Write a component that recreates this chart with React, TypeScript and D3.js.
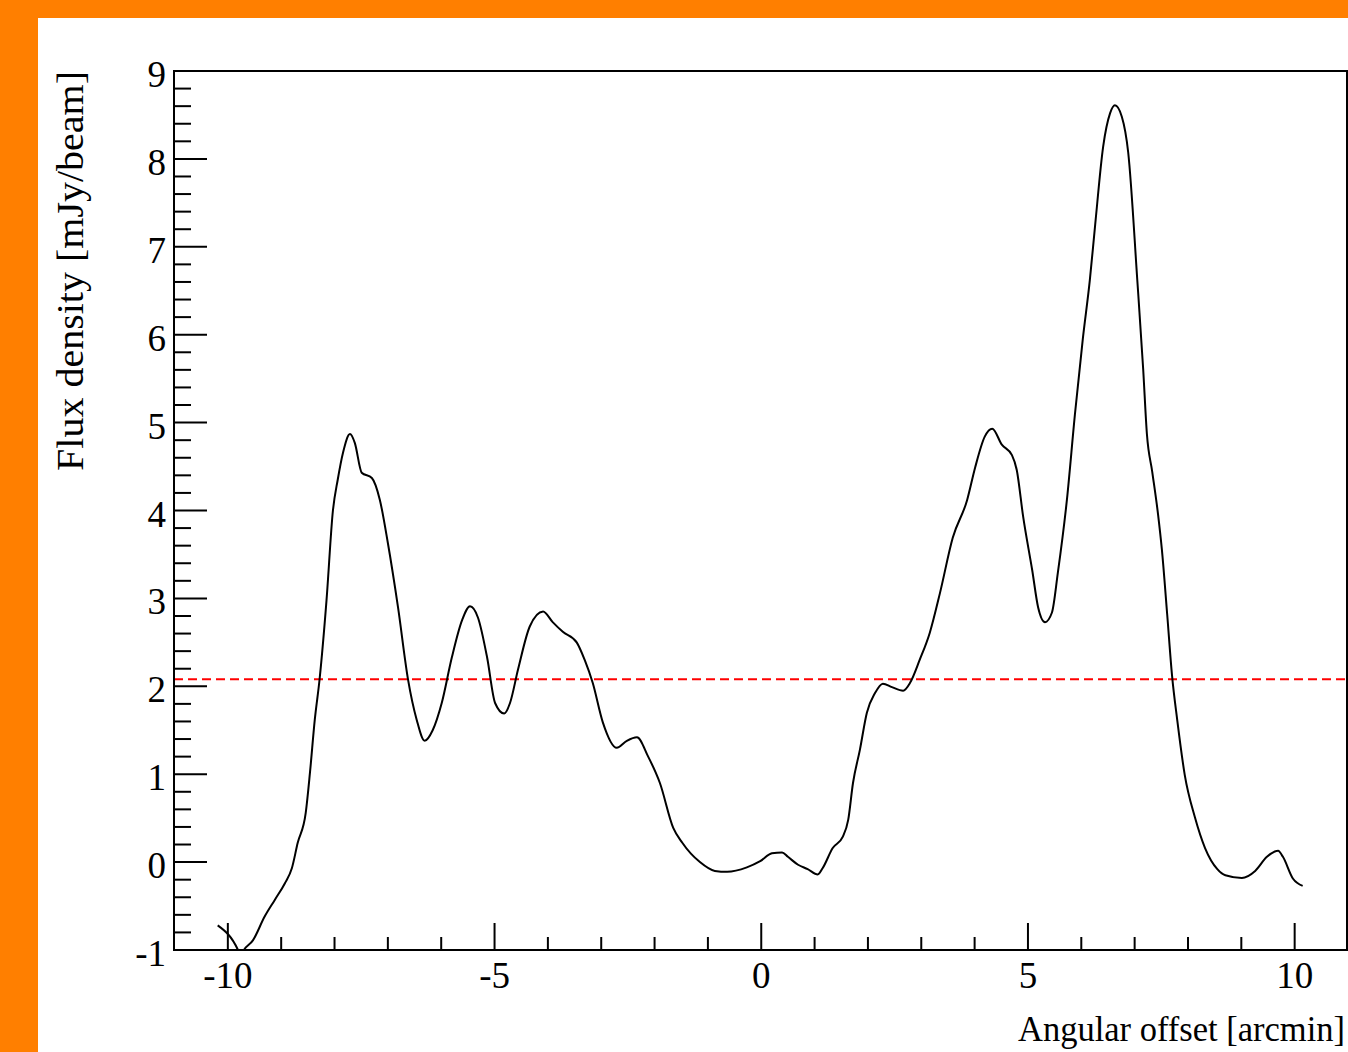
import React from 'react';
import * as d3 from 'd3';

// Angular offset [arcmin]
const offsets = [
  -10.19, -9.81, -9.76, -9.7, -9.53, -9.31, -9.12, -8.93, -8.8, -8.69, -8.54, -8.46, -8.37, -8.28, -8.15, -8.03,
  -7.94, -7.84, -7.71, -7.62, -7.49, -7.3, -7.15, -7.0, -6.81, -6.62, -6.46, -6.31, -6.16, -5.99, -5.8, -5.61,
  -5.46, -5.31, -5.14, -4.99, -4.82, -4.71, -4.56, -4.34, -4.09, -3.91, -3.72, -3.46, -3.31, -3.16, -2.97, -2.71,
  -2.52, -2.33, -2.12, -1.9, -1.65, -1.48, -1.15, -0.87, -0.64, -0.27, -0.02, 0.2, 0.39, 0.5, 0.69, 0.87,
  1.06, 1.15, 1.34, 1.53, 1.63, 1.72, 1.85, 1.98, 2.13, 2.28, 2.45, 2.66, 2.79, 2.97, 3.16, 3.35,
  3.59, 3.86, 4.01, 4.19, 4.33, 4.51, 4.7, 4.79, 4.91, 5.08, 5.19, 5.32, 5.45, 5.56, 5.73, 5.88,
  6.03, 6.16, 6.26, 6.41, 6.54, 6.63, 6.76, 6.88, 7.05, 7.16, 7.23, 7.33, 7.44, 7.51, 7.61, 7.7,
  7.8, 7.94, 8.13, 8.32, 8.55, 8.7, 9.01, 9.26, 9.48, 9.69, 9.78, 9.97, 10.15,
];

// Flux density [mJy/beam]
const flux = [
  -0.72, -1.0, -1.07, -1.0, -0.89, -0.62, -0.43, -0.24, -0.07, 0.22, 0.56, 1.02, 1.62, 2.08, 2.98, 4.0,
  4.35, 4.66, 4.87, 4.77, 4.43, 4.37, 4.12, 3.63, 2.9, 2.07, 1.62, 1.38, 1.5, 1.81, 2.33, 2.75,
  2.91, 2.78, 2.33, 1.81, 1.69, 1.81, 2.19, 2.68, 2.85, 2.73, 2.62, 2.5, 2.3, 2.04, 1.59, 1.3,
  1.38, 1.42, 1.2, 0.9, 0.39, 0.22, 0.0, -0.1, -0.11, -0.06, 0.01, 0.1, 0.11, 0.06, -0.03, -0.08,
  -0.14, -0.07, 0.16, 0.29, 0.48, 0.9, 1.28, 1.7, 1.92, 2.03, 1.99, 1.95, 2.04, 2.3, 2.61, 3.06,
  3.69, 4.12, 4.49, 4.84, 4.93, 4.75, 4.63, 4.46, 3.93, 3.32, 2.9, 2.73, 2.84, 3.29, 4.12, 5.09,
  5.96, 6.62, 7.25, 8.14, 8.52, 8.61, 8.48, 8.07, 6.62, 5.61, 4.87, 4.44, 3.95, 3.56, 2.82, 2.13,
  1.61, 0.99, 0.51, 0.16, -0.08, -0.15, -0.18, -0.1, 0.06, 0.13, 0.06, -0.19, -0.27,
];

const threshold = 2.08;
const xMajorTicks = [-10, -5, 0, 5, 10];
const yMajorTicks = [-1, 0, 1, 2, 3, 4, 5, 6, 7, 8, 9];
const xTitle = 'Angular offset [arcmin]';
const yTitle = 'Flux density [mJy/beam]';

export default function App() {
  const W = 1348;
  const H = 1052;
  const left = 174;
  const right = 1347;
  const top = 71;
  const bottom = 950;
  const x = d3.scaleLinear().domain([-11, 11]).range([left + 0.5, right + 1]);
  const y = d3.scaleLinear().domain([-1, 9]).range([bottom, top]);

  const line = d3
    .line<number>()
    .x((_, i) => x(offsets[i]))
    .y((d) => y(d))
    .curve(d3.curveMonotoneX);

  const xMinor = d3.range(-11, 12, 1).filter((v) => !xMajorTicks.includes(v) && v > -11 && v < 11);
  const yMinor = d3
    .range(-1, 9.001, 0.2)
    .map((v) => Math.round(v * 10) / 10)
    .filter((v) => Math.abs(v - Math.round(v)) > 1e-6);

  const font = '"Liberation Serif", "Times New Roman", serif';

  return (
    <div style={{ position: 'fixed', left: 0, top: 0 }}>
      <svg width={W} height={H} style={{ display: 'block' }}>
        <rect x={0} y={0} width={W} height={H} fill="#ff7f00" />
        <rect x={38} y={18} width={W - 38} height={H - 18} fill="#ffffff" />
        <defs>
          <clipPath id="plotclip">
            <rect x={left} y={top} width={right - left} height={bottom - top} />
          </clipPath>
        </defs>

        {/* red threshold line */}
        <line
          x1={left}
          x2={right}
          y1={y(threshold)}
          y2={y(threshold)}
          stroke="#ff0000"
          strokeWidth={2}
          strokeDasharray="9,5"
        />

        {/* curve */}
        <path d={line(flux) || ''} fill="none" stroke="#000" strokeWidth={2} clipPath="url(#plotclip)" />

        {/* frame */}
        <rect x={left} y={top} width={right - left} height={bottom - top} fill="none" stroke="#000" strokeWidth={2} />

        {/* y ticks */}
        {yMajorTicks.map((v) => (
          <line key={'ym' + v} x1={left} x2={left + 33} y1={y(v)} y2={y(v)} stroke="#000" strokeWidth={2} />
        ))}
        {yMinor.map((v) => (
          <line key={'yn' + v} x1={left} x2={left + 17} y1={y(v)} y2={y(v)} stroke="#000" strokeWidth={2} />
        ))}
        {/* x ticks */}
        {xMajorTicks.map((v) => (
          <line key={'xm' + v} x1={x(v)} x2={x(v)} y1={bottom} y2={bottom - 27} stroke="#000" strokeWidth={2} />
        ))}
        {xMinor.map((v) => (
          <line key={'xn' + v} x1={x(v)} x2={x(v)} y1={bottom} y2={bottom - 13} stroke="#000" strokeWidth={2} />
        ))}

        {/* y tick labels */}
        {yMajorTicks.map((v) => (
          <text key={'yl' + v} x={166} y={y(v) + 16} textAnchor="end" fontFamily={font} fontSize={37} fill="#000">
            {v}
          </text>
        ))}
        {/* x tick labels */}
        {xMajorTicks.map((v) => (
          <text key={'xl' + v} x={x(v)} y={988} textAnchor="middle" fontFamily={font} fontSize={37} fill="#000">
            {v}
          </text>
        ))}

        {/* axis titles */}
        <text
          x={1345}
          y={1041}
          textAnchor="end"
          fontFamily={font}
          fontSize={36}
          fill="#000"
          textLength={327}
          lengthAdjust="spacingAndGlyphs"
        >
          {xTitle}
        </text>
        <text
          transform={`translate(83, 71) rotate(-90)`}
          textAnchor="end"
          fontFamily={font}
          fontSize={37}
          fill="#000"
          textLength={400}
          lengthAdjust="spacingAndGlyphs"
        >
          {yTitle}
        </text>
      </svg>
    </div>
  );
}
